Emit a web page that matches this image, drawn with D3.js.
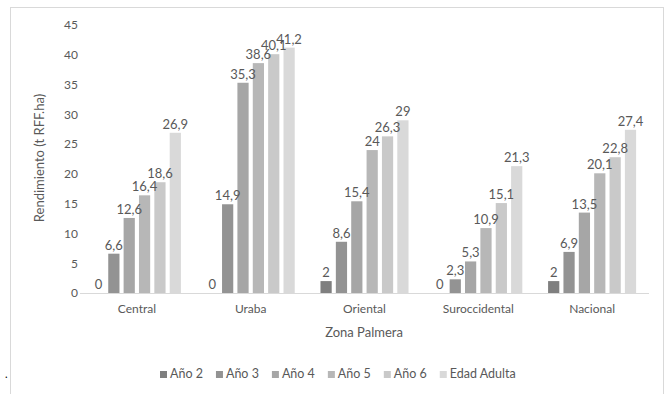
<!DOCTYPE html>
<meta charset="utf-8">
<style>
body { margin: 0; background: #fff; }
text { font-family: Lato, "Open Sans", sans-serif; fill: #595959; }
.axis path, .axis line { display: none; }
</style>
<body>
<script src="https://cdn.jsdelivr.net/npm/d3@7/dist/d3.min.js"></script>
<script>
// data
var zonas = ["Central", "Uraba", "Oriental", "Suroccidental", "Nacional"];
var series = ["Año 2", "Año 3", "Año 4", "Año 5", "Año 6", "Edad Adulta"];
var anio2 = [0, 0, 2, 0, 2];
var anio3 = [6.6, 14.9, 8.6, 2.3, 6.9];
var anio4 = [12.6, 35.3, 15.4, 5.3, 13.5];
var anio5 = [16.4, 38.6, 24, 10.9, 20.1];
var anio6 = [18.6, 40.1, 26.3, 15.1, 22.8];
var adulta = [26.9, 41.2, 29, 21.3, 27.4];
var yTicks = [0, 5, 10, 15, 20, 25, 30, 35, 40, 45];

var values = [anio2, anio3, anio4, anio5, anio6, adulta];
var colors = ["#7f7f7f", "#939393", "#a6a6a6", "#b7b7b7", "#c9c9c9", "#d9d9d9"];

var W = 666, H = 394;
var svg = d3.select("body").append("svg").attr("width", W).attr("height", H);

// chart border
svg.append("rect")
    .attr("x", 10.5).attr("y", 7.5)
    .attr("width", 653).attr("height", 392)
    .attr("fill", "none").attr("stroke", "#d9d9d9");

var x0 = d3.scaleBand().domain(zonas).range([80, 649]).paddingInner(0.19).paddingOuter(0.095);
var x1 = d3.scaleBand().domain(series).range([0, x0.bandwidth()]).paddingInner(0.27).paddingOuter(0.135);
var y = d3.scaleLinear().domain([0, 45]).range([293, 25]);

var fmt = function(v) { return String(v).replace(".", ","); };

var groups = svg.selectAll(".grp")
    .data(zonas)
  .enter().append("g")
    .attr("class", "grp")
    .attr("transform", function(d) { return "translate(" + x0(d) + ",0)"; });

groups.selectAll("rect")
    .data(function(d, i) { return series.map(function(s, j) { return {s: s, v: values[j][i], j: j}; }); })
  .enter().append("rect")
    .attr("x", function(d) { return x1(d.s); })
    .attr("y", function(d) { return y(d.v); })
    .attr("width", x1.bandwidth())
    .attr("height", function(d) { return y(0) - y(d.v); })
    .attr("fill", function(d) { return colors[d.j]; });

groups.selectAll(".lbl")
    .data(function(d, i) { return series.map(function(s, j) { return {s: s, v: values[j][i]}; }); })
  .enter().append("text")
    .attr("class", "lbl")
    .attr("x", function(d) { return x1(d.s) + x1.bandwidth() / 2; })
    .attr("y", function(d) { return y(d.v) - 4; })
    .attr("text-anchor", "middle")
    .style("font-size", "13px")
    .text(function(d) { return fmt(d.v); });

// baseline
svg.append("line")
    .attr("x1", 80).attr("x2", 649)
    .attr("y1", y(0) + 0.5).attr("y2", y(0) + 0.5)
    .attr("stroke", "#d9d9d9");

svg.append("g")
    .attr("class", "axis")
    .attr("transform", "translate(78,0)")
    .call(d3.axisLeft(y).tickValues(yTicks).tickSize(0).tickPadding(0))
    .selectAll("text").style("font-size", "12px").style("font-family", "Lato, sans-serif").style("fill", "#595959");

svg.append("g")
    .attr("class", "axis")
    .attr("transform", "translate(0," + y(0) + ")")
    .call(d3.axisBottom(x0).tickSize(0).tickPadding(11))
    .selectAll("text").style("font-size", "12px").style("font-family", "Lato, sans-serif").style("fill", "#595959");

svg.append("text")
    .attr("x", 364).attr("y", 337)
    .attr("text-anchor", "middle")
    .style("font-size", "13px")
    .text("Zona Palmera");

svg.append("text")
    .attr("transform", "translate(44,158) rotate(-90)")
    .attr("text-anchor", "middle")
    .style("font-size", "13px")
    .text("Rendimiento (t RFF.ha)");

// legend
var lx = 160;
var legend = svg.append("g").attr("transform", "translate(0,378)");
series.forEach(function(s, j) {
  legend.append("rect")
      .attr("x", lx).attr("y", -7)
      .attr("width", 7).attr("height", 7)
      .attr("fill", colors[j]);
  var t = legend.append("text")
      .attr("x", lx + 10).attr("y", 0)
      .style("font-size", "12.5px")
      .text(s);
  lx += 10 + t.node().getComputedTextLength() + 13;
});

svg.append("text")
    .attr("x", 5).attr("y", 378)
    .style("font-size", "11px")
    .style("fill", "#000")
    .text(".");
</script>
